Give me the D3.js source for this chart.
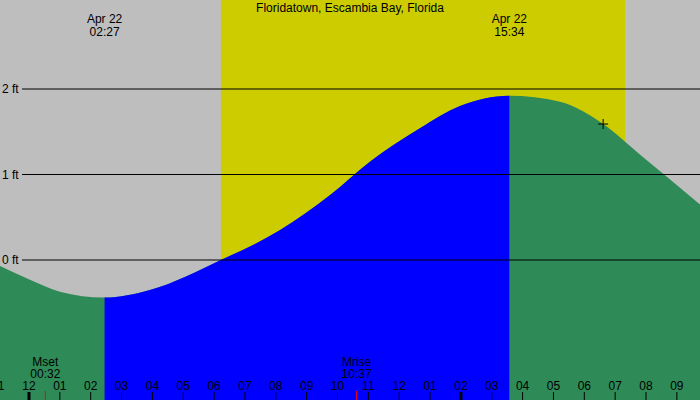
<!DOCTYPE html>
<html><head><meta charset="utf-8">
<script src="https://cdn.jsdelivr.net/npm/d3@7"></script>
<style>body{margin:0}svg{display:block;font-family:"Liberation Sans",Arial,sans-serif}</style>
</head><body><svg id="viz" width="700" height="400"></svg>
<script>
let width = 700, height = 400;
// tide curve (hours since midnight, feet)
let hours = [-0.94, 0.03, 1.0, 2.45, 3.92, 6.22, 8.14, 9.76, 11.05, 12.67, 13.97, 15.57, 17.21, 18.61, 19.81, 21.75];
let feet  = [-0.07, -0.23, -0.37, -0.44, -0.35, 0, 0.35, 0.76, 1.15, 1.54, 1.80, 1.92, 1.85, 1.59, 1.23, 0.65];
let lowHour = 2.45, highHour = 15.57;
let sunrise = 6.22, sunset = 19.32;
let moonTicks = [0.53, 10.62];
let yTicks = [0, 1, 2];
let hourLabels = ["11","12","01","02","03","04","05","06","07","08","09","10","11","12","01","02","03","04","05","06","07","08","09"];

let x = d3.scaleLinear().domain([-0.94, 21.75]).range([0, 700]);
let y = d3.scaleLinear().domain([0, 2]).range([260, 89]);
let svg = d3.select("#viz");

svg.append("rect").attr("width", width).attr("height", height).attr("fill", "#bebebe");
svg.append("rect").attr("x", x(sunrise)).attr("width", x(sunset) - x(sunrise))
    .attr("height", height).attr("fill", "#cccc00");

let pts = hours.map((h, i) => [h, feet[i]]);
let area = d3.area().curve(d3.curveMonotoneX)
    .x(d => x(d[0])).y0(height).y1(d => y(d[1]));

svg.append("clipPath").attr("id", "rise").append("rect")
    .attr("x", x(lowHour)).attr("width", x(highHour) - x(lowHour)).attr("height", height);

svg.append("path").datum(pts).attr("d", area).attr("fill", "#2e8b57");
svg.append("path").datum(pts).attr("d", area).attr("fill", "#0000ff").attr("clip-path", "url(#rise)");

// horizontal grid
yTicks.forEach(function(t) {
    svg.append("line").attr("x1", 22).attr("x2", width)
        .attr("y1", y(t)).attr("y2", y(t)).attr("stroke", "black");
    svg.append("text").attr("x", 2).attr("y", y(t) + 4).attr("font-size", 12).text(t + " ft");
});

svg.append("text").attr("x", 350).attr("y", 12).attr("text-anchor", "middle")
    .attr("font-size", 12).text("Floridatown, Escambia Bay, Florida");

[[lowHour, "02:27"], [highHour, "15:34"]].forEach(function(d) {
    let t = svg.append("text").attr("text-anchor", "middle").attr("font-size", 12);
    t.append("tspan").attr("x", x(d[0])).attr("y", 23).text("Apr 22");
    t.append("tspan").attr("x", x(d[0])).attr("y", 36).text(d[1]);
});

[[moonTicks[0], "Mset", "00:32"], [moonTicks[1], "Mrise", "10:37"]].forEach(function(d) {
    let t = svg.append("text").attr("text-anchor", "middle").attr("font-size", 12);
    t.append("tspan").attr("x", x(d[0])).attr("y", 366).text(d[1]);
    t.append("tspan").attr("x", x(d[0])).attr("y", 378).text(d[2]);
    svg.append("line").attr("x1", x(d[0])).attr("x2", x(d[0]))
        .attr("y1", 391).attr("y2", 400).attr("stroke", "red");
});

hourLabels.forEach(function(lbl, i) {
    let h = i - 1;
    svg.append("text").attr("x", x(h)).attr("y", 390).attr("text-anchor", "middle")
        .attr("font-size", 12).text(lbl);
    svg.append("line").attr("x1", x(h)).attr("x2", x(h)).attr("y1", 392).attr("y2", 400)
        .attr("stroke", "black").attr("stroke-width", (h === 0 || h === 14) ? 3 : 1);
});

// current time marker
let nowH = 18.61, nowF = 1.59;
svg.append("path").attr("d", `M${x(nowH) - 5},${y(nowF)}h10M${x(nowH)},${y(nowF) - 5}v10`)
    .attr("stroke", "black");
</script></body></html>
